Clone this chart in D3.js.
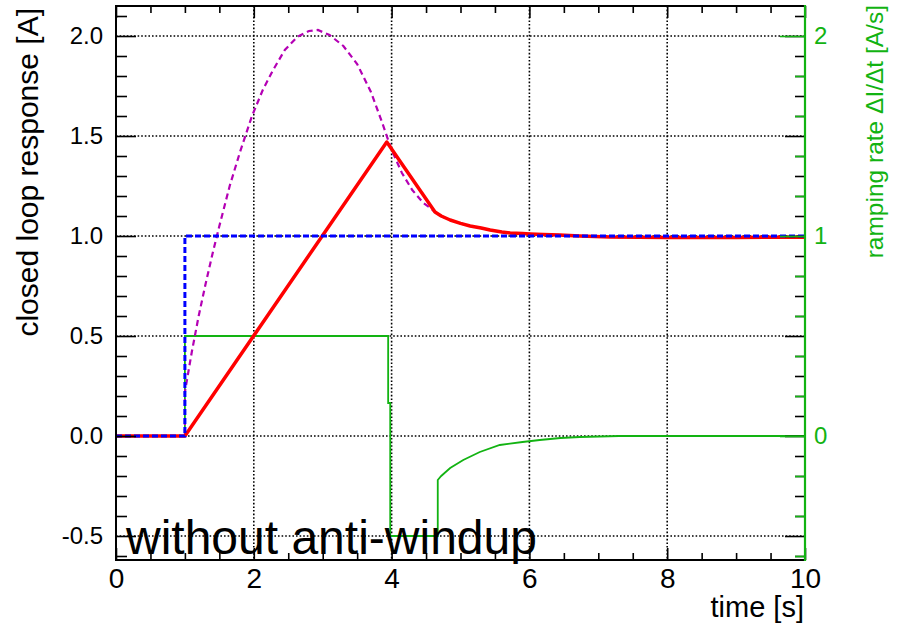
<!DOCTYPE html>
<html>
<head>
<meta charset="utf-8">
<script src="https://cdn.jsdelivr.net/npm/d3@7"></script>
<style>
  html, body { margin: 0; padding: 0; background: #fff; }
  svg { display: block; font-family: "Liberation Sans", Arial, Helvetica, sans-serif; }
</style>
</head>
<body>
<svg id="chart" width="900" height="631"></svg>
<script>
// ---- data ----
// set point (step at t = 1 s)
const setpointTime  = [0, 1, 1, 10];
const setpointValue = [0, 0, 1, 1];

// controller response with ramp limit, no anti-windup
const rampedTime  = [0, 1, 3.93, 4.63, 4.72, 4.85, 5.0, 5.14, 5.3, 5.43, 5.6, 5.72, 5.9, 6.01, 6.2, 6.44, 6.73, 7.17, 8, 9, 10];
const rampedValue = [0, 0, 1.47, 1.12, 1.10, 1.08, 1.063, 1.05, 1.04, 1.03, 1.02, 1.015, 1.012, 1.01, 1.007, 1.005, 1.0, 0.995, 0.993, 0.993, 0.994];

// unlimited response (until it joins the ramped curve)
const freeTime  = [0, 1, 1, 1.1, 1.2, 1.3, 1.4, 1.5, 1.65, 1.8, 1.974, 2.13, 2.28, 2.45, 2.63, 2.8, 2.93, 3.1, 3.3, 3.5, 3.7, 3.86, 4.0, 4.15, 4.3, 4.46, 4.56, 4.63];
const freeValue = [0, 0, 0.22, 0.42, 0.6, 0.76, 0.91, 1.05, 1.25, 1.42, 1.6, 1.73, 1.83, 1.93, 1.995, 2.025, 2.03, 2.005, 1.95, 1.86, 1.72, 1.57, 1.43, 1.315, 1.23, 1.165, 1.14, 1.12];

// ramping rate dI/dt (right axis)
const rateTime  = [0, 1, 1, 3.95, 3.95, 3.98, 3.98, 4.67, 4.67, 4.72, 4.85, 5.04, 5.28, 5.57, 5.9, 6.15, 6.45, 6.73, 7.3, 10];
const rateValue = [0, 0, 0.5, 0.5, 0.165, 0.165, -0.5, -0.5, -0.22, -0.2, -0.16, -0.12, -0.08, -0.045, -0.03, -0.02, -0.01, -0.005, 0, 0];

const xMajorTicks = [0, 2, 4, 6, 8, 10];
const yMajorTicks = [-0.5, 0, 0.5, 1, 1.5, 2];
const yRightMajorTicks = [0, 1, 2];

const xTitle = "time [s]";
const yTitle = "closed loop response [A]";
const yRightTitle = "ramping rate \u0394I/\u0394t [A/s]";
const caption = "without anti-windup";

// ---- layout ----
const svg = d3.select("#chart");
const L = 116, R = 805, T = 6, B = 560;
const green = "#12b312";

const x = d3.scaleLinear().domain([0, 10]).range([L, R]);
const y = d3.scaleLinear().domain([-0.62, 2.15]).range([B, T]);
const yR = d3.scaleLinear().domain([-0.62, 2.15]).range([B, T]);

const xMinor = d3.range(0, 10.001, 0.5).filter(v => Math.abs(v % 2) > 1e-6);
const yMinor = d3.range(-0.6, 2.151, 0.1).map(v => +v.toFixed(2)).filter(v => Math.abs(Math.round(v * 2) - v * 2) > 1e-6);
const yRMinor = d3.range(-0.6, 2.151, 0.2).map(v => +v.toFixed(2)).filter(v => Math.abs(Math.round(v) - v) > 1e-6);

// grid
const grid = svg.append("g").attr("stroke", "#000").attr("stroke-width", 1.6)
  .attr("stroke-dasharray", "1.6,2");
grid.selectAll(".gx").data(xMajorTicks.filter(v => v > 0 && v < 10)).join("line")
  .attr("x1", d => x(d)).attr("x2", d => x(d)).attr("y1", T).attr("y2", B);
grid.selectAll(".gy").data(yMajorTicks).join("line")
  .attr("x1", L).attr("x2", R).attr("y1", d => y(d)).attr("y2", d => y(d));

// series
const pts = (ts, vs) => ts.map((t, i) => [t, vs[i]]);
const line = sc => d3.line().x(d => x(d[0])).y(d => sc(d[1]));

const freeFull = pts(freeTime, freeValue).concat(pts(rampedTime, rampedValue).filter(d => d[0] > 4.63));

svg.append("path").datum(pts(rateTime, rateValue)).attr("d", line(yR))
  .attr("fill", "none").attr("stroke", green).attr("stroke-width", 1.8);
svg.append("path").datum(freeFull).attr("d", line(y))
  .attr("fill", "none").attr("stroke", "#b400b4").attr("stroke-width", 2.2)
  .attr("stroke-dasharray", "6,4");
svg.append("path").datum(pts(rampedTime, rampedValue)).attr("d", line(y))
  .attr("fill", "none").attr("stroke", "#ff0000").attr("stroke-width", 3.5)
  .attr("stroke-linejoin", "round");
svg.append("path").datum(pts(setpointTime, setpointValue)).attr("d", line(y))
  .attr("fill", "none").attr("stroke", "#0000ff").attr("stroke-width", 3)
  .attr("stroke-dasharray", "6,3");

// axes
function styleAxis(g, color, fontSize) {
  g.select(".domain").remove();
  g.selectAll(".tick line").attr("stroke", color).attr("stroke-width", 1.6);
  g.selectAll(".tick text").attr("fill", color).attr("font-size", fontSize)
    .attr("font-family", "Liberation Sans, Arial, sans-serif");
}

// left
svg.append("g").attr("transform", `translate(${L},0)`)
  .call(d3.axisLeft(y).tickValues(yMinor).tickSizeInner(-11).tickFormat(""))
  .call(g => styleAxis(g, "#000", 0));
svg.append("g").attr("transform", `translate(${L},0)`)
  .call(d3.axisLeft(y).tickValues(yMajorTicks).tickSizeInner(-20).tickPadding(13).tickFormat(d => d.toFixed(1)))
  .call(g => styleAxis(g, "#000", 24));

// right mirror (black)
svg.append("g").attr("transform", `translate(${R},0)`)
  .call(d3.axisRight(y).tickValues(yMinor).tickSizeInner(-10).tickFormat(""))
  .call(g => styleAxis(g, "#000", 0));
svg.append("g").attr("transform", `translate(${R},0)`)
  .call(d3.axisRight(y).tickValues(yMajorTicks).tickSizeInner(-20).tickFormat(""))
  .call(g => styleAxis(g, "#000", 0));

// right axis (green)
svg.append("g").attr("transform", `translate(${R},0)`)
  .call(d3.axisRight(yR).tickValues(yRMinor).tickSizeInner(-10).tickFormat(""))
  .call(g => styleAxis(g, green, 0));
svg.append("g").attr("transform", `translate(${R},0)`)
  .call(d3.axisRight(yR).tickValues(yRightMajorTicks).tickSizeInner(-25).tickPadding(9).tickFormat(d3.format("d")))
  .call(g => styleAxis(g, green, 24));

// bottom
svg.append("g").attr("transform", `translate(0,${B})`)
  .call(d3.axisBottom(x).tickValues(xMinor).tickSizeInner(-7).tickFormat(""))
  .call(g => styleAxis(g, "#000", 0));
svg.append("g").attr("transform", `translate(0,${B})`)
  .call(d3.axisBottom(x).tickValues(xMajorTicks).tickSizeInner(-12).tickPadding(8).tickFormat(d3.format("d")))
  .call(g => styleAxis(g, "#000", 28));

// top mirror
svg.append("g").attr("transform", `translate(0,${T})`)
  .call(d3.axisTop(x).tickValues(xMinor).tickSizeInner(-7).tickFormat(""))
  .call(g => styleAxis(g, "#000", 0));
svg.append("g").attr("transform", `translate(0,${T})`)
  .call(d3.axisTop(x).tickValues(xMajorTicks).tickSizeInner(-12).tickFormat(""))
  .call(g => styleAxis(g, "#000", 0));

// frame
svg.append("path").attr("d", `M${R},${B}H${L}V${T}H${R}`)
  .attr("fill", "none").attr("stroke", "#000").attr("stroke-width", 2);
svg.append("line").attr("x1", R).attr("x2", R).attr("y1", T - 1).attr("y2", B + 1)
  .attr("stroke", green).attr("stroke-width", 2.2);

// titles
svg.append("text").attr("transform", `translate(38,8) rotate(-90)`)
  .attr("text-anchor", "end").attr("font-size", 30).attr("fill", "#000").text(yTitle);
svg.append("text").attr("transform", `translate(883,5) rotate(-90)`)
  .attr("text-anchor", "end").attr("font-size", 24.5).attr("fill", green).text(yRightTitle);
svg.append("text").attr("x", 804).attr("y", 617)
  .attr("text-anchor", "end").attr("font-size", 29).attr("fill", "#000").text(xTitle);
svg.append("text").attr("x", 126).attr("y", 554)
  .attr("font-size", 48).attr("fill", "#000").text(caption);
</script>
</body>
</html>
